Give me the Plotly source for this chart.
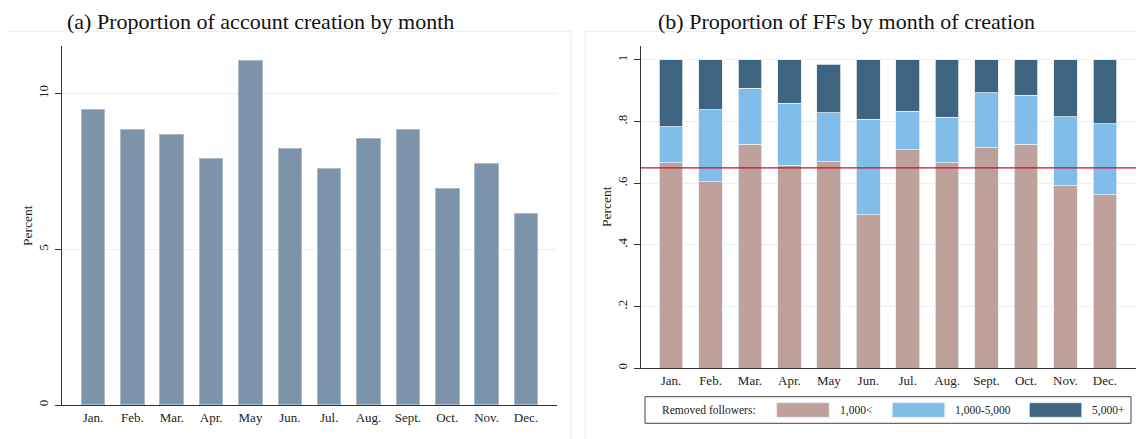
import plotly.graph_objects as go

months = ["Jan.", "Feb.", "Mar.", "Apr.", "May", "Jun.", "Jul.", "Aug.", "Sept.", "Oct.", "Nov.", "Dec."]
creation_pct = [9.49, 8.85, 8.69, 7.91, 11.07, 8.22, 7.59, 8.54, 8.85, 6.95, 7.75, 6.16]
share_lt1000 = [0.666, 0.605, 0.727, 0.658, 0.670, 0.498, 0.708, 0.666, 0.715, 0.727, 0.592, 0.563]
share_1000_5000 = [0.117, 0.234, 0.181, 0.202, 0.158, 0.310, 0.126, 0.148, 0.178, 0.159, 0.223, 0.230]
share_5000plus = [0.217, 0.161, 0.092, 0.140, 0.158, 0.192, 0.166, 0.186, 0.107, 0.114, 0.185, 0.207]
reference_share = 0.65
left_ticks = [0, 5, 10]
right_ticks = [0, 0.2, 0.4, 0.6, 0.8, 1]
right_ticktext = ["0", ".2", ".4", ".6", ".8", "1"]
series_names = ["1,000<", "1,000-5,000", "5,000+"]
series_colors = ["#bda19a", "#80bde8", "#3d6480"]

# the page body has an 8px margin, so the figure is drawn 8px smaller and shifted
OFF = 8
W, H = 1144 - OFF, 439 - OFF
def px(x):
    return (x - OFF) / W
def py(y):
    return 1 - (y - OFF) / H

serif = "Liberation Serif"
fig = go.Figure()

fig.add_trace(go.Bar(x=months, y=creation_pct, marker=dict(color="#7d93aa", line=dict(color="#a9bacb", width=1)),
                     xaxis="x", yaxis="y", showlegend=False))
for vals, name, col in zip([share_lt1000, share_1000_5000, share_5000plus], series_names, series_colors):
    fig.add_trace(go.Bar(x=months, y=vals, name=name, marker=dict(color=col, line=dict(color="#e8eef2", width=0.8)),
                         xaxis="x2", yaxis="y2", showlegend=False))

axis_common = dict(showline=True, linecolor="#333333", linewidth=1, mirror=False, zeroline=False)
tickfont = dict(family=serif, size=13, color="#222222")

fig.update_layout(
    width=W, height=H, margin=dict(l=0, r=0, t=0, b=0, autoexpand=False),
    paper_bgcolor="white", plot_bgcolor="white",
    barmode="stack", bargap=0.4,
    font=dict(family=serif, color="#222222"),
    xaxis=dict(domain=[px(62), px(557)], anchor="y", type="category", range=[-0.79, 11.79],
               ticks="", tickfont=tickfont, showgrid=False, **axis_common),
    yaxis=dict(domain=[py(405), py(45.7)], anchor="x", range=[0, 11.53], tickvals=left_ticks,
               ticks="outside", ticklen=6, tickcolor="#333333", tickangle=-90, tickfont=tickfont,
               ticklabelstandoff=2, showgrid=True, gridcolor="#e9f0f3", gridwidth=1, **axis_common),
    xaxis2=dict(domain=[px(640.7), px(1136)], anchor="y2", type="category", range=[-0.77, 11.79],
                ticks="", tickfont=tickfont, showgrid=False, **axis_common),
    yaxis2=dict(domain=[py(368.3), py(45.7)], anchor="x2", range=[0, 1.046], tickvals=right_ticks,
                ticktext=right_ticktext, ticks="outside", ticklen=6, tickcolor="#333333", tickangle=-90,
                tickfont=tickfont, ticklabelstandoff=2, showgrid=True, gridcolor="#e9f0f3", gridwidth=1,
                **axis_common),
)

# y-axis titles
for xpos, ypos in [(27, 226), (606, 207)]:
    fig.add_annotation(text="Percent", xref="paper", yref="paper", x=px(xpos), y=py(ypos), textangle=-90,
                       showarrow=False, xanchor="center", yanchor="middle",
                       font=dict(family=serif, size=13.5, color="#222222"))

# panel frames
fig.add_shape(type="rect", xref="paper", yref="paper", x0=px(6.5), x1=px(571), y0=py(450), y1=py(31.7),
              line=dict(color="#e3ecef", width=1), layer="below")
fig.add_shape(type="rect", xref="paper", yref="paper", x0=px(585), x1=px(1155), y0=py(450), y1=py(31.7),
              line=dict(color="#e3ecef", width=1), layer="below")

# reference line
fig.add_shape(type="line", xref="x2 domain", yref="y2", x0=0, x1=1, y0=reference_share, y1=reference_share,
              line=dict(color="#c8102e", width=1.2))

# titles
fig.add_annotation(text="(a) Proportion of account creation by month", xref="paper", yref="paper",
                   x=px(260), y=1, showarrow=False, font=dict(family=serif, size=22, color="#111111"),
                   xanchor="center", yanchor="top", borderpad=0)
fig.add_annotation(text="(b) Proportion of FFs by month of creation", xref="paper", yref="paper",
                   x=px(846), y=1, showarrow=False, font=dict(family=serif, size=22, color="#111111"),
                   xanchor="center", yanchor="top", borderpad=0)

# manual legend
fig.add_shape(type="rect", xref="paper", yref="paper", x0=px(645), x1=px(1131), y0=py(423.3), y1=py(396.7),
              line=dict(color="#444444", width=1), fillcolor="white")
fig.add_annotation(text="Removed followers:", xref="paper", yref="paper", x=px(660), y=py(410),
                   showarrow=False, xanchor="left", yanchor="middle", font=dict(family=serif, size=11.5))
sw_x = [776.7, 892.3, 1029.3]
for x0, name, col in zip(sw_x, series_names, series_colors):
    fig.add_shape(type="rect", xref="paper", yref="paper", x0=px(x0), x1=px(x0 + 52.5), y0=py(417.3), y1=py(402.7),
                  line=dict(color="#e8eef2", width=0.8), fillcolor=col)
    fig.add_annotation(text=name, xref="paper", yref="paper", x=px(x0 + 61), y=py(410), showarrow=False,
                       xanchor="left", yanchor="middle", font=dict(family=serif, size=11.5))

fig.write_html("out.html")
